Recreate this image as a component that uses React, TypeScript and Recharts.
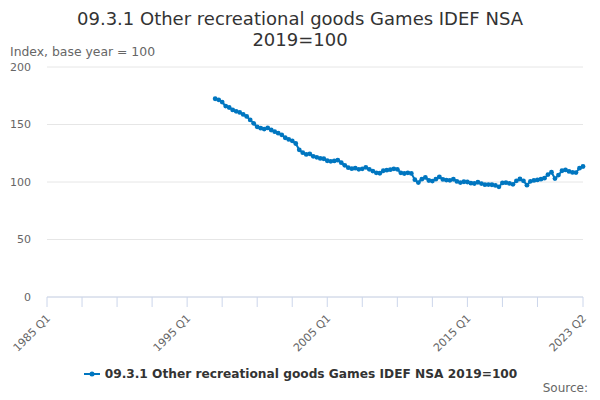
import { LineChart, Line, XAxis, YAxis, CartesianGrid, Legend } from "recharts";

// quarters on the axis run from 1985 Q1 to 2023 Q2
const firstYear = 1985;
const lastYear = 2023;
const lastQuarter = 2;

// series starts at 1997 Q1
const seriesStart = "1997 Q1";
const gamesIndex = [
  172.4, 171.5, 169.5, 166, 164.8, 162.7, 161.5, 160.5, 158.8, 157,
  154, 151, 148, 146.8, 146, 147, 145.2, 143.8, 142.5, 141,
  138.5, 137, 135.8, 133.5, 128, 125.5, 124, 124.5, 122.3, 121.5,
  120.5, 120.2, 118.5, 118, 118.3, 119, 116.8, 114.5, 112.5, 111.6,
  112, 111, 111.5, 112.8, 111, 109.5, 108, 107.6, 109.8, 110.3,
  110.7, 111.5, 111, 108, 107.4, 108, 107.5, 102, 99.5, 102.5,
  104, 101.3, 100.8, 102.5, 104.5, 102.2, 101.7, 101.5, 102.4, 100.5,
  99.5, 100.2, 100, 99, 98.7, 99.8, 98.6, 97.7, 97.8, 97.6,
  97, 95.8, 99.2, 99.4, 98.8, 98, 101, 102.6, 101, 97.2,
  100.6, 101.4, 101.8, 102.5, 103.3, 106.5, 108.5, 103, 106, 109.8,
  110.5, 109.2, 108.3, 108.2, 112, 113.5,
];

const yTicks = [0, 50, 100, 150, 200];
const labelledQuarters = ["1985 Q1", "1995 Q1", "2005 Q1", "2015 Q1", "2023 Q2"];

const seriesName = "09.3.1 Other recreational goods Games IDEF NSA 2019=100";

const quarters: string[] = [];
for (let y = firstYear; y <= lastYear; y++) {
  for (let q = 1; q <= 4; q++) {
    if (y === lastYear && q > lastQuarter) break;
    quarters.push(`${y} Q${q}`);
  }
}
const startIdx = quarters.indexOf(seriesStart);
const data = quarters.map((label, i) => ({
  label,
  value: i >= startIdx ? gamesIndex[i - startIdx] ?? null : null,
}));
// tick marks every 10 quarters plus the last one
const xTicks = quarters.filter((_, i) => i % 10 === 0 && i <= quarters.length - 10).concat(quarters[quarters.length - 1]);

const blue = "#0076c0";
const font = "'DejaVu Sans', sans-serif";

function QuarterTick(props: any) {
  const { x, y, payload } = props;
  if (!labelledQuarters.includes(payload.value)) return null;
  const tx = x + 4;
  const ty = y + 10;
  return (
    <text
      x={tx}
      y={ty}
      transform={`rotate(-45, ${tx}, ${ty})`}
      textAnchor="end"
      fontSize={11}
      fill="#666666"
      fontFamily={font}
    >
      {payload.value}
    </text>
  );
}

function LegendRow() {
  return (
    <div style={{ display: "flex", justifyContent: "center", alignItems: "center" }}>
      <svg width={18} height={10} style={{ marginRight: 4 }}>
        <line x1={1} y1={5} x2={17} y2={5} stroke={blue} strokeWidth={2} />
        <circle cx={9} cy={5} r={2.5} fill={blue} />
      </svg>
      <span style={{ fontFamily: font, fontWeight: "bold", fontSize: 12.2, color: "#333333" }}>{seriesName}</span>
    </div>
  );
}

export default function App() {
  return (
    <div style={{ position: "absolute", left: 0, top: 0, width: 600, height: 400, background: "#fff" }}>
      <div
        style={{
          position: "absolute",
          top: 8,
          left: 0,
          width: 600,
          textAlign: "center",
          fontFamily: font,
          fontSize: 18,
          lineHeight: "21px",
          color: "#333333",
        }}
      >
        09.3.1 Other recreational goods Games IDEF NSA
        <br />
        2019=100
      </div>
      <div style={{ position: "absolute", top: 44, left: 10, fontFamily: font, fontSize: 12.4, color: "#666666" }}>
        Index, base year = 100
      </div>
      <LineChart
        width={600}
        height={400}
        data={data}
        margin={{ top: 67, right: 17, bottom: 33, left: 0 }}
      >
        <CartesianGrid vertical={false} stroke="#e6e6e6" />
        <XAxis
          dataKey="label"
          ticks={xTicks}
          interval={0}
          height={70}
          tick={<QuarterTick />}
          tickSize={10}
          axisLine={{ stroke: "#ccd6eb" }}
          tickLine={{ stroke: "#ccd6eb" }}
        />
        <YAxis
          domain={[0, 200]}
          ticks={yTicks}
          width={47}
          axisLine={false}
          tickLine={false}
          tickMargin={10}
          tick={{ fontSize: 11, fill: "#666666", fontFamily: font }}
        />
        <Legend
          layout="horizontal"
          verticalAlign="middle"
          align="center"
          wrapperStyle={{ top: 367, left: 0, width: 600 }}
          content={() => <LegendRow />}
        />
        <Line
          dataKey="value"
          name={seriesName}
          stroke={blue}
          strokeWidth={2}
          dot={{ r: 2.4, fill: blue, stroke: blue, strokeWidth: 0 }}
          isAnimationActive={false}
        />
      </LineChart>
      <div
        style={{
          position: "absolute",
          top: 381,
          right: 12,
          fontFamily: font,
          fontSize: 12,
          color: "#666666",
        }}
      >
        Source:
      </div>
    </div>
  );
}
